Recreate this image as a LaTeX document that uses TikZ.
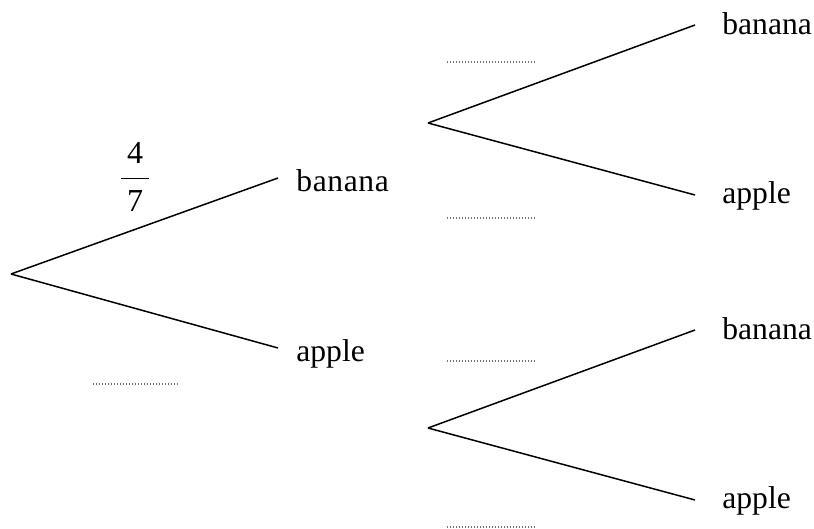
\documentclass[tikz,border=0pt]{standalone}
\usepackage{amsmath}
\usepackage{fontspec}
\setmainfont{Liberation Serif}
\usetikzlibrary{positioning}

\tikzset{
  branch/.style={line width=0.75pt},
  fruit/.style={anchor=west, inner ysep=0pt, text depth=0pt, font=\fontsize{15.8}{19}\selectfont},
  blank/.style={dash pattern=on 0.6pt off 0.9pt, line width=0.7pt, black!55},
}

\begin{document}
\begin{tikzpicture}[x=0.5pt,y=-0.5pt]
    \useasboundingbox (0,0) rectangle (814,529);

    % First set of branches
    \coordinate (root) at (11,274);
    \node[fruit, inner xsep=9, text height=13.5pt] (ban) at (278,178) {b\kern0.3pt a\kern0.3pt n\kern0.3pt a\kern0.3pt n\kern0.3pt a};
    \node[fruit, inner xsep=9, text height=13pt] (app) at (278,348) {apple};
    \draw[branch] (root) -- (ban.west);
    \draw[branch] (root) -- (app.west);
    \node[font=\fontsize{16}{20}\selectfont] (frac) at (135,177) {$\dfrac{\,\text{4}\,}{\,\text{7}\,}$};

    % Second set of branches
    \coordinate (top) at (428,123);
    \coordinate (bot) at (428,428);
    \node[fruit, inner xsep=13.5, text height=10pt] (topban) at (695,25) {banana};
    \node[fruit, inner xsep=13.5, text height=8.5pt] (topapp) at (695,195) {apple};
    \node[fruit, inner xsep=13.5, text height=10pt] (botban) at (695,330) {banana};
    \node[fruit, inner xsep=13.5, text height=8.5pt] (botapp) at (695,500) {apple};
    \draw[branch] (top) -- (topban.west);
    \draw[branch] (top) -- (topapp.west);
    \draw[branch] (bot) -- (botban.west);
    \draw[branch] (bot) -- (botapp.west);

    % Blanks for the missing probabilities
    \draw[blank] (93,384) -- (180,384);
    \draw[blank] (447,62) -- (535,62);
    \draw[blank] (447,218) -- (535,218);
    \draw[blank] (447,361) -- (535,361);
    \draw[blank] (447,527) -- (535,527);
\end{tikzpicture}
\end{document}
